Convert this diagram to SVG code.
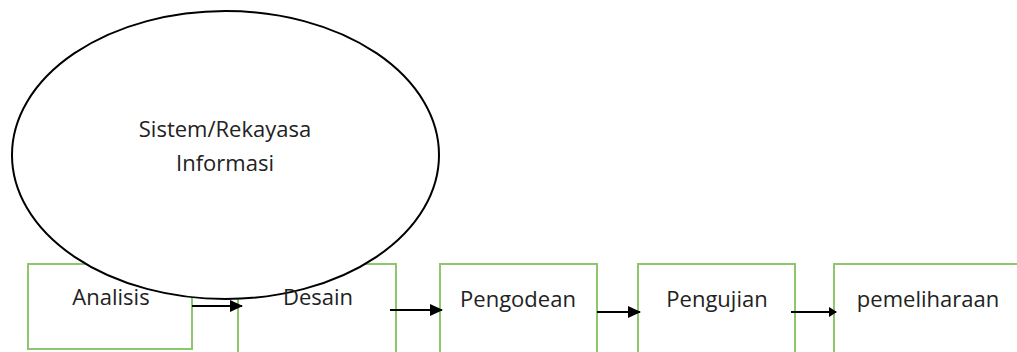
<svg xmlns="http://www.w3.org/2000/svg" width="1017" height="352" viewBox="0 0 1017 352">
<style>
.box{fill:#fff;stroke:#8dc66b;stroke-width:2}
.lbl{font-family:"Open Sans","Liberation Sans",sans-serif;font-size:22px;fill:#222}
.conn{stroke:#000;stroke-width:2;fill:none}
</style>
<defs>
<marker id="ah" markerWidth="8" markerHeight="10" refX="7" refY="5" orient="auto" markerUnits="userSpaceOnUse" viewBox="0 0 8 10">
<path d="M0,0 L8,5 L0,10 Z" fill="#000"/>
</marker>
<marker id="ah2" markerWidth="14" markerHeight="14" refX="12" refY="7" orient="auto" markerUnits="userSpaceOnUse" viewBox="0 0 14 14">
<path d="M0,1 L13,7 L0,13 Z" fill="#000"/>
</marker>
</defs>
<rect width="1017" height="352" fill="#fff"/>
<g id="analisis"><rect class="box" x="28" y="264" width="164" height="85"/></g>
<g id="desain"><rect class="box" x="238" y="264" width="158" height="92"/></g>
<g id="pengodean"><rect class="box" x="440" y="264" width="157" height="92"/><text class="lbl" x="518" y="307" text-anchor="middle">Pengodean</text></g>
<g id="pengujian"><rect class="box" x="638" y="264" width="157" height="92"/><text class="lbl" x="717" y="307" text-anchor="middle">Pengujian</text></g>
<g id="pemeliharaan"><rect class="box" x="834" y="264" width="190" height="92"/><text class="lbl" x="928" y="307" text-anchor="middle">pemeliharaan</text></g>
<g id="connectors">
<line class="conn" x1="192" y1="306" x2="242" y2="306" marker-end="url(#ah2)"/>
<line class="conn" x1="390" y1="310" x2="442" y2="310" marker-end="url(#ah2)"/>
<line class="conn" x1="597" y1="312" x2="640" y2="312" marker-end="url(#ah2)"/>
<line class="conn" x1="791" y1="312" x2="836" y2="312" marker-end="url(#ah)"/>
</g>
<g id="sistem">
<ellipse cx="225.5" cy="155" rx="213.5" ry="144" fill="#fff" stroke="#000" stroke-width="2"/>
<text class="lbl" x="225" y="137" text-anchor="middle">Sistem/Rekayasa</text>
<text class="lbl" x="225" y="171" text-anchor="middle">Informasi</text>
</g>
<text class="lbl" x="111" y="305" text-anchor="middle">Analisis</text>
<text class="lbl" x="318" y="305" text-anchor="middle">Desain</text>
</svg>
